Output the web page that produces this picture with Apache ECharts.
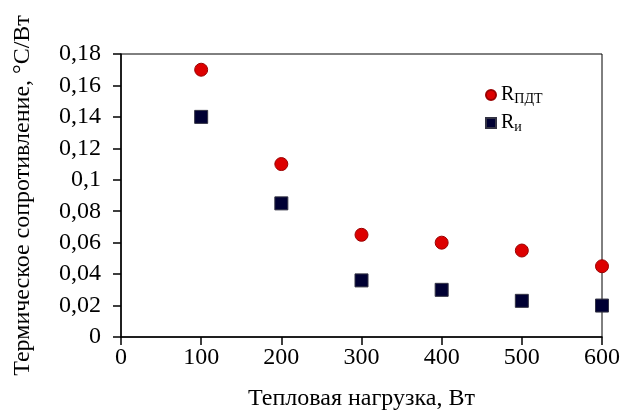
<!DOCTYPE html>
<html>
<head>
<meta charset="utf-8">
<script src="https://cdn.jsdelivr.net/npm/echarts@6/dist/echarts.min.js"></script>
<style>
    html, body {margin: 0; padding: 0; background: #fff;}
    #chart {width: 628px; height: 411px;}
</style>
</head>
<body>
<div id="chart"></div>
<script>
const loads = [100, 200, 300, 400, 500, 600];
const rPdt = [0.17, 0.11, 0.065, 0.06, 0.055, 0.045];
const rI = [0.14, 0.085, 0.036, 0.03, 0.023, 0.02];

const FONT = 'Liberation Serif';

const fmtComma = (v) => String(+v.toFixed(2)).replace('.', ',');

const chart = echarts.init(document.getElementById('chart'));
chart.setOption({
    animation: false,
    textStyle: {fontFamily: FONT, color: '#000'},
    grid: {
        left: 121, right: 26, top: 54, bottom: 74,
        outerBoundsMode: 'none',
        show: true, borderColor: '#000', borderWidth: 1,
    },
    legend: {
        orient: 'vertical',
        left: 480, top: 80,
        itemWidth: 10, itemHeight: 10, itemGap: 7,
        formatter: (name) => name === 'pdt' ? '{r|R}{s|ПДТ}' : '{r|R}{s|и}',
        textStyle: {
            fontFamily: FONT,
            rich: {
                r: {fontFamily: FONT, fontSize: 20, color: '#000'},
                s: {fontFamily: FONT, fontSize: 14, color: '#000', padding: [8, 0, 0, 0]},
            },
        },
        data: [
            {name: 'pdt', icon: 'circle'},
            {name: 'i', icon: 'rect'},
        ],
    },
    xAxis: {
        type: 'value',
        min: 0, max: 600, interval: 100,
        name: 'Тепловая нагрузка, Вт',
        nameLocation: 'middle',
        nameGap: 50,
        nameTextStyle: {fontFamily: FONT, fontSize: 24, color: '#000'},
        axisLine: {lineStyle: {color: '#000', width: 1.5}},
        axisTick: {inside: false, length: 8, lineStyle: {color: '#000', width: 1.5}},
        axisLabel: {fontFamily: FONT, fontSize: 24, color: '#000', margin: 9},
        splitLine: {show: false},
    },
    yAxis: {
        type: 'value',
        min: 0, max: 0.18, interval: 0.02,
        name: 'Термическое сопротивление, °C/Вт',
        nameLocation: 'middle',
        nameGap: 86,
        nameTextStyle: {fontFamily: FONT, fontSize: 24, color: '#000'},
        axisLine: {lineStyle: {color: '#000', width: 1.5}},
        axisTick: {inside: false, length: 8, lineStyle: {color: '#000', width: 1.5}},
        axisLabel: {fontFamily: FONT, fontSize: 24, color: '#000', margin: 20, formatter: fmtComma},
        splitLine: {show: false},
    },
    series: [
        {
            name: 'pdt',
            type: 'scatter',
            symbol: 'circle',
            symbolSize: 13,
            itemStyle: {color: '#dd0000', borderColor: '#990000', borderWidth: 1, opacity: 1},
            data: loads.map((x, i) => [x, rPdt[i]]),
        },
        {
            name: 'i',
            type: 'scatter',
            symbol: 'rect',
            symbolSize: 13,
            itemStyle: {color: '#000033', borderColor: '#333344', borderWidth: 1, opacity: 1},
            data: loads.map((x, i) => [x, rI[i]]),
        },
    ],
});
</script>
</body>
</html>
